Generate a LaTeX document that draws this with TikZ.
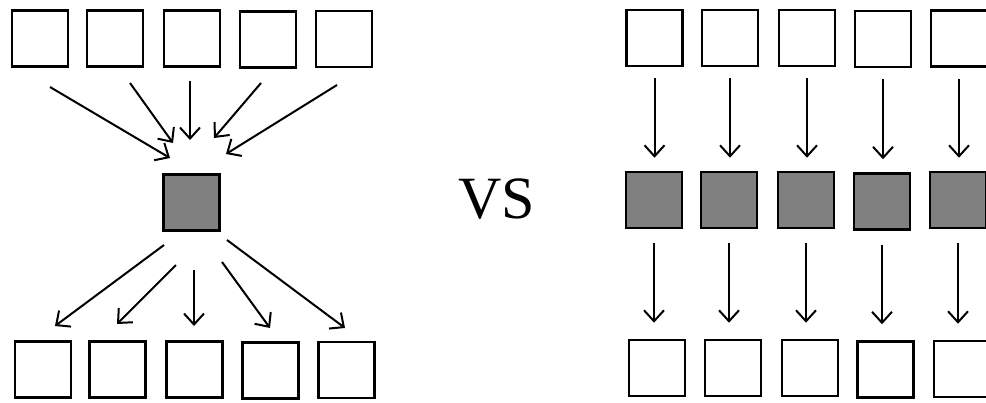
\documentclass[tikz,border=0pt]{standalone}
\usepackage{fontspec}
\setmainfont{Liberation Serif}
\usetikzlibrary{arrows.meta}
\tikzset{
  box/.style={draw=black, line width=2.5pt, fill=white, minimum size=56pt, inner sep=0pt},
  hub/.style={box, fill=gray50},
  arr/.style={line width=2pt, -{Straight Barb[length=11pt,width=20pt,line width=2pt]}},
}
\definecolor{gray50}{HTML}{808080}
\begin{document}
\begin{tikzpicture}[x=1pt,y=-1pt]
\useasboundingbox (0,0) rectangle (986,402);
\clip (0,0) rectangle (986,402);

% ---- many-to-one-to-many ----
\node[box] (a1) at (40,38.5) {};
\node[box] (a2) at (115,38.5) {};
\node[box] (a3) at (192,38.5) {};
\node[box] (a4) at (268,39.5) {};
\node[box] (a5) at (344,39) {};
\node[hub] (h) at (191.5,202.5) {};
\node[box] (b1) at (43,369.5) {};
\node[box] (b2) at (117.5,369.5) {};
\node[box] (b3) at (194.5,369.5) {};
\node[box] (b4) at (270.5,370.5) {};
\node[box] (b5) at (346.5,370) {};

% arrow ends converging on the hub
\coordinate (ia1) at (50,87);   \coordinate (ih1) at (170,158);
\coordinate (ia2) at (130,83);  \coordinate (ih2) at (173,143);
\coordinate (ia3) at (190,81);  \coordinate (ih3) at (190,140);
\coordinate (ia4) at (261,83);  \coordinate (ih4) at (214,138);
\coordinate (ia5) at (337,85);  \coordinate (ih5) at (226,154);
\foreach \i in {1,...,5} \draw[arr] (ia\i) -- (ih\i);

% arrow ends fanning out from the hub
\coordinate (oh1) at (164,245); \coordinate (ob1) at (55,326);
\coordinate (oh2) at (176,265); \coordinate (ob2) at (117,324);
\coordinate (oh3) at (194,270); \coordinate (ob3) at (194,326);
\coordinate (oh4) at (222,262); \coordinate (ob4) at (270,328);
\coordinate (oh5) at (227,240); \coordinate (ob5) at (345,328);
\foreach \i in {1,...,5} \draw[arr] (oh\i) -- (ob\i);

% ---- label ----
\node[font=\fontsize{60}{60}\selectfont, inner sep=0pt] (vs) at (497,199) {VS};

% ---- parallel pipelines ----
\foreach \i/\x/\y in {1/654.5/38, 2/730/38, 3/807/38, 4/883/39, 5/959/38.5}
  \node[box] (r\i) at (\x,\y) {};
\foreach \i/\x/\y in {1/654/200, 2/729/200, 3/806/200, 4/882/201.5, 5/958/200}
  \node[hub] (g\i) at (\x,\y) {};
\foreach \i/\x/\y in {1/657/368, 2/733/368, 3/810/368, 4/885.5/369.5, 5/962/369}
  \node[box] (s\i) at (\x,\y) {};

% straight down from each stage to the next
\foreach \i in {1,...,5} {
  \draw[arr, shorten <=11pt, shorten >=13pt] (r\i.south) -- (r\i.south |- g\i.north);
  \draw[arr, shorten <=14pt, shorten >=16pt] (g\i.south) -- (g\i.south |- s\i.north);
}
\end{tikzpicture}
\end{document}
